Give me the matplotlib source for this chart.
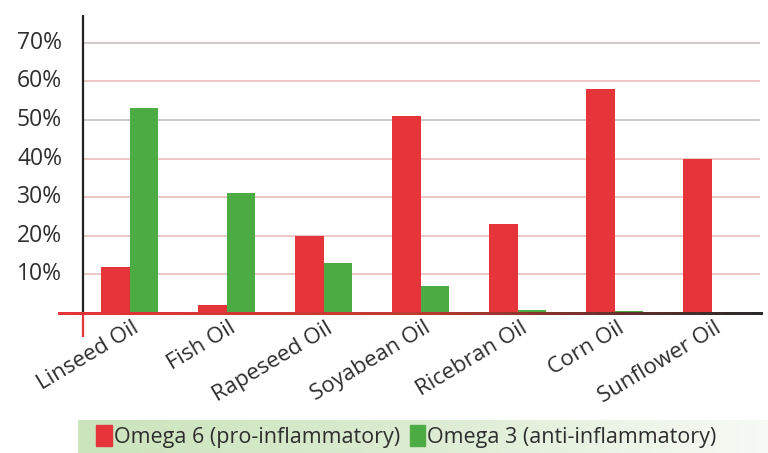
import numpy as np
import matplotlib
matplotlib.use("Agg")
import matplotlib.pyplot as plt
from matplotlib.collections import LineCollection
from matplotlib.colors import LinearSegmentedColormap
from matplotlib.patches import Patch

oils = ["Linseed Oil", "Fish Oil", "Rapeseed Oil", "Soyabean Oil",
        "Ricebran Oil", "Corn Oil", "Sunflower Oil"]
omega6 = [12, 2, 20, 51, 23, 58, 40]
omega3 = [53, 31, 13, 7, 0.7, 0.5, 0]
yticks = [10, 20, 30, 40, 50, 60, 70]
series_labels = ["Omega 6 (pro-inflammatory)", "Omega 3 (anti-inflammatory)"]

RED = "#e5343a"
GREEN = "#4dab43"
TXT = "#2e2e2e"

plt.rcParams["font.family"] = ["Open Sans", "DejaVu Sans"]

W, H = 768, 453
fig = plt.figure(figsize=(W / 100, H / 100), dpi=100)
fig.patch.set_facecolor("white")

# main axes in pixel terms: left 58..763, top 15..337
ax = fig.add_axes([58 / W, (H - 337) / H, (763 - 58) / W, (337 - 15) / H])
ax.set_xlim(-0.742, 6.526)
ax.set_ylim(-6.2, 77.2)
ax.axis("off")

x = np.arange(len(oils))
w = 0.294
yax_x = -0.485
grid_end = 6.485

for t, c in zip(yticks, ["#eac3c0", "#eac3c0", "#eac3c0", "#eac3c0",
                         "#cdc4c3", "#eac3c0", "#cdc4c3"]):
    ax.plot([yax_x, grid_end], [t, t], color=c, lw=1.3, zorder=1)
    ax.text(-0.70, t, f"{t}%", ha="right", va="center", fontsize=16.5,
            color=TXT)

ax.bar(x - w / 2, omega6, w, color=RED, zorder=2)
ax.bar(x + w / 2, omega3, w, color=GREEN, zorder=2)

# zero line fading from red to dark
xs = np.linspace(-0.742, 6.526, 60)
segs = [[(xs[i], 0), (xs[i + 1], 0)] for i in range(len(xs) - 1)]
cmap = LinearSegmentedColormap.from_list("zl", [RED, "#c03a30", "#2a2a2a"])
lc = LineCollection(segs, colors=cmap(np.linspace(0, 1, len(segs))),
                    lw=2, zorder=3, capstyle="projecting", antialiaseds=False)
ax.add_collection(lc)

# y axis: dark above zero, red below
ax.plot([yax_x, yax_x], [0, 77.2], color="#222222", lw=1.6, zorder=3)
ax.plot([yax_x, yax_x], [-6.2, 0], color=RED, lw=1.6, zorder=3)

for i, name in enumerate(oils):
    ax.text(i + 0.02, -1.2, name, ha="right", va="top", rotation=31,
            rotation_mode="anchor", fontsize=16, color=TXT)

# legend strip with green-to-white gradient
lax = fig.add_axes([78 / W, 0, (W - 78) / W, 33 / H])
grad = np.linspace(0, 1, 256)[None, :]
gcmap = LinearSegmentedColormap.from_list("lg", ["#cbe4bc", "#dcecd2", "#f7faf5"])
lax.imshow(grad, aspect="auto", cmap=gcmap, extent=[0, 1, 0, 1])
lax.set_xlim(0, 1)
lax.set_ylim(0, 1)
lax.axis("off")
handles = [Patch(color=RED), Patch(color=GREEN)]
lax.legend(handles, series_labels, loc="center left", bbox_to_anchor=(0.0, 0.5),
           ncol=2, frameon=False, fontsize=15.5, handlelength=0.72,
           handleheight=1.1, handletextpad=0.1, columnspacing=0.45,
           borderaxespad=0.45, labelcolor=TXT)

fig.savefig("out.png", dpi=100)
